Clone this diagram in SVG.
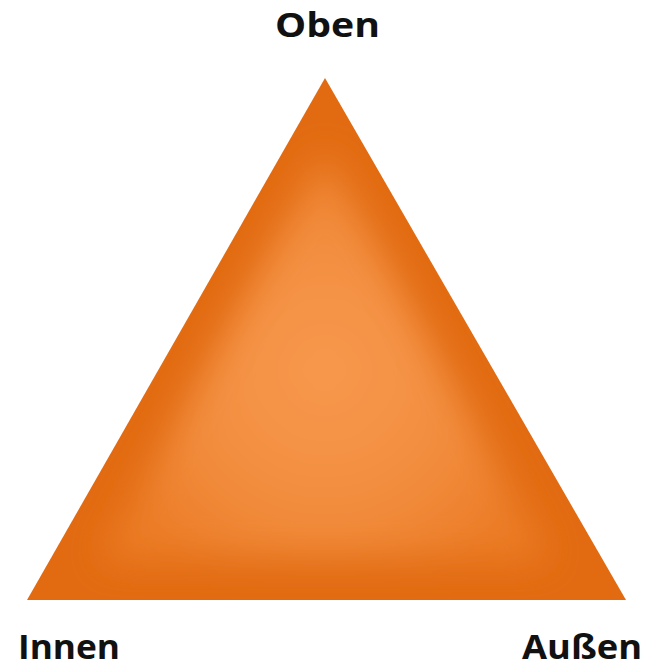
<svg xmlns="http://www.w3.org/2000/svg" width="646" height="668" viewBox="0 0 646 668">
  <style>
    .lbl { font-family: "Open Sans", "Liberation Sans", sans-serif; font-weight: bold; font-size: 34px; fill: #111111; }
  </style>
  <defs>
    <clipPath id="triClip">
      <polygon points="325,78 27,600 626,600"/>
    </clipPath>
    <radialGradient id="inner" cx="325" cy="370" r="230" gradientUnits="userSpaceOnUse">
      <stop offset="0" stop-color="#F7994E"/>
      <stop offset="0.6" stop-color="#F28D3E"/>
      <stop offset="1" stop-color="#EC7D28"/>
    </radialGradient>
    <filter id="soft" x="-20%" y="-20%" width="140%" height="140%">
      <feGaussianBlur stdDeviation="18"/>
    </filter>
  </defs>
  <rect width="646" height="668" fill="#FFFFFF"/>
  <g id="triangle">
    <polygon points="325,78 27,600 626,600" fill="#E26B12"/>
    <g clip-path="url(#triClip)">
      <polygon points="325,150 100,560 550,560" fill="url(#inner)" filter="url(#soft)"/>
    </g>
  </g>
  <g id="label-oben">
    <text class="lbl" x="275" y="37" textLength="105" lengthAdjust="spacingAndGlyphs">Oben</text>
  </g>
  <g id="label-innen">
    <text class="lbl" x="18" y="659" textLength="102" lengthAdjust="spacingAndGlyphs">Innen</text>
  </g>
  <g id="label-aussen">
    <text class="lbl" x="522" y="659" textLength="120" lengthAdjust="spacingAndGlyphs">Außen</text>
  </g>
  <g id="connectors"/>
</svg>
